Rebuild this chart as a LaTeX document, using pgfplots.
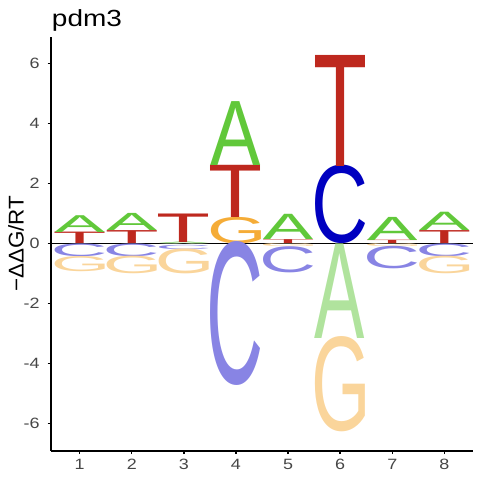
\documentclass[border=0pt]{standalone}
\usepackage{pgfplots}
\pgfplotsset{compat=1.18}
\usepackage{pgfplotstable}
\usepackage{graphicx}
\usepackage{fontspec}
\setmainfont{Liberation Sans}
\newfontfamily\logofont{Liberation Sans}
\definecolor{cA}{RGB}{97,200,58}
\definecolor{cT}{RGB}{190,40,30}
\definecolor{cC}{RGB}{0,0,192}
\definecolor{cG}{RGB}{245,172,55}
\colorlet{nA}{cA!50!white}
\colorlet{nT}{cT!50!white}
\definecolor{nC}{RGB}{136,132,228}
\colorlet{nG}{cG!50!white}
\definecolor{ticklab}{RGB}{70,70,70}
\newlength\unity \setlength\unity{22.5pt}
\newsavebox\boxA \newsavebox\boxT \newsavebox\boxC \newsavebox\boxG
\makeatletter
\@for\ll:=A,T,C,G\do{%
  \expandafter\let\csname boxc\ll\expandafter\endcsname\csname box\ll\endcsname
  \expandafter\let\csname boxn\ll\expandafter\endcsname\csname box\ll\endcsname}
\makeatother
\newcommand\mkbox[2]{\setbox#1=\hbox{\logofont\kern-\XeTeXglyphbounds1 \XeTeXcharglyph`#2 #2\kern-\XeTeXglyphbounds3 \XeTeXcharglyph`#2 }}
\newcommand\logoletter{\color{\pgfplotspointmeta}\resizebox{37.5pt}{\hgt\unity}{\copy\csname box\pgfplotspointmeta\endcsname}}

% x = position, y = lower edge, h = letter height, c = colour/letter (c = above zero, n = below)
\pgfplotstableread{
x y h c
1 0 0.38 cT
1 0.38 0.56 cA
1 -0.42 0.42 nC
1 -0.92 0.50 nG
2 0 0.43 cT
2 0.43 0.57 cA
2 -0.42 0.42 nC
2 -1.00 0.58 nG
3 0 0.05 cA
3 0.05 0.95 cT
3 -0.04 0.04 nA
3 -0.18 0.14 nC
3 -1.00 0.82 nG
4 0 0.87 cG
4 0.87 1.74 cT
4 2.61 2.13 cA
4 -4.73 4.73 nC
5 0 0.13 cT
5 0.13 0.84 cA
5 -0.10 0.10 nG
5 -0.96 0.86 nC
6 0 2.58 cC
6 2.58 3.70 cT
6 -3.15 3.15 nA
6 -6.28 3.13 nG
7 0 0.11 cT
7 0.11 0.77 cA
7 -0.10 0.10 nG
7 -0.84 0.74 nC
8 0 0.43 cT
8 0.43 0.61 cA
8 -0.42 0.42 nC
8 -1.00 0.58 nG
}\logodata

\begin{document}
\mkbox\boxA A\mkbox\boxT T\mkbox\boxC C\mkbox\boxG G%
\begin{tikzpicture}
\path[use as bounding box] (0,0) rectangle (360pt,360pt);
\begin{axis}[
  at={(38.25pt,21.975pt)}, anchor=south west,
  scale only axis, width=316.5pt, height=310.5pt,
  xmin=0.45, xmax=8.55, ymin=-6.9, ymax=6.9,
  axis x line*=bottom, axis y line*=left,
  axis line style={-, line width=1.5pt, black},
  xtick={1,...,8}, ytick={-6,-4,...,6},
  tick align=outside, major tick length=2.6pt,
  every tick/.style={black, line width=1.1pt},
  /pgf/number format/assume math mode=true,
  ticklabel style={font=\fontsize{11.2}{13}\selectfont, text=ticklab, xscale=1.2},
  yticklabel style={xshift=-1.5pt},
  every axis title shift=0pt,
  title={pdm3},
  title style={at={(axis description cs:0,1)}, anchor=base west, xshift=0.5pt, yshift=7.5pt, font=\fontsize{17.5}{20}\selectfont, inner sep=0pt, xscale=1.2},
  ylabel={−ΔΔG/RT},
  ylabel style={at={(axis description cs:-0.083,0.5)}, anchor=center, font=\fontsize{16}{18}\selectfont, xscale=1.05},
  clip=false,
]
\addplot[draw=none, point meta=explicit symbolic,
  nodes near coords={\logoletter},
  visualization depends on={\thisrow{h} \as \hgt},
  every node near coord/.append style={inner sep=0pt, outer sep=0pt, anchor=south}]
  table[x=x, y=y, meta=c] {\logodata};
\addplot[black, line width=0.8pt] coordinates {(0.45,0) (8.55,0)};
\end{axis}
\end{tikzpicture}
\end{document}
